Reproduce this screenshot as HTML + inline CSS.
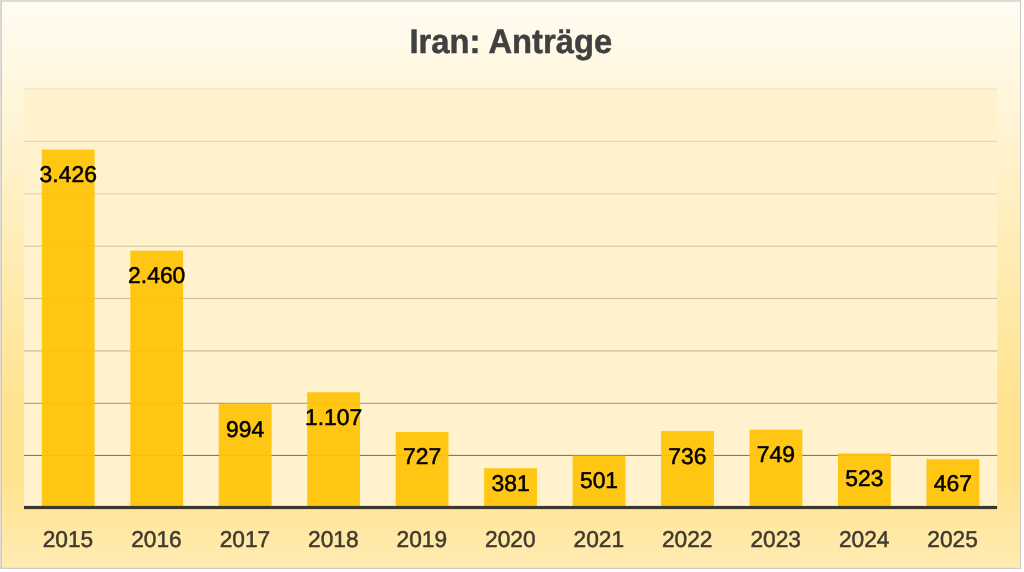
<!DOCTYPE html>
<html lang="de"><head><meta charset="utf-8"><title>Iran: Anträge</title>
<style>
html,body{margin:0;padding:0;background:#fff;}
body{width:1024px;height:572px;overflow:hidden;position:relative;}
svg{position:absolute;left:0;top:0;display:block;}
text{font-family:"Liberation Sans",sans-serif;text-rendering:geometricPrecision;}
.t{font-weight:bold;font-size:34px;fill:#404040;stroke:#404040;stroke-width:0.5px;text-anchor:middle;}
.ax{font-size:22.95px;fill:#403a30;stroke:#403a30;stroke-width:0.5px;text-anchor:middle;}
.dl{font-size:22.75px;fill:#000;stroke:#000;stroke-width:0.5px;text-anchor:middle;}
</style></head><body>
<svg width="1024" height="572" viewBox="0 0 1024 572">
<defs><linearGradient id="bg" x1="0" y1="0" x2="0" y2="1"><stop offset="0.00" stop-color="#FFFCF2"/><stop offset="0.74" stop-color="#FFE28C"/><stop offset="0.83" stop-color="#FFE28C"/><stop offset="1.00" stop-color="#FFECB3"/></linearGradient></defs>
<rect x="0" y="0" width="1021.0" height="568.8" fill="#e0dedb"/>
<rect x="0.9" y="0.8" width="1020.0" height="567.9" fill="#c9c5b8"/>
<rect x="1.8" y="1.6" width="1018.2" height="566.2" fill="url(#bg)"/>
<rect x="24.0" y="88.9" width="973.1" height="418.6" fill="#FFF2CC"/>
<rect x="24.0" y="88.35" width="973.1" height="1.1" fill="rgb(84,72,56)" fill-opacity="0.1"/>
<rect x="24.0" y="140.78" width="973.1" height="1.1" fill="rgb(84,72,56)" fill-opacity="0.14"/>
<rect x="24.0" y="193.20" width="973.1" height="1.1" fill="rgb(84,72,56)" fill-opacity="0.19"/>
<rect x="24.0" y="245.63" width="973.1" height="1.1" fill="rgb(84,72,56)" fill-opacity="0.25"/>
<rect x="24.0" y="297.95" width="973.1" height="1.1" fill="rgb(84,72,56)" fill-opacity="0.3"/>
<rect x="24.0" y="350.37" width="973.1" height="1.1" fill="rgb(84,72,56)" fill-opacity="0.35"/>
<rect x="24.0" y="402.75" width="973.1" height="1.1" fill="rgb(84,72,56)" fill-opacity="0.5"/>
<rect x="24.0" y="454.88" width="973.1" height="1.1" fill="rgb(84,72,56)" fill-opacity="0.72"/>
<rect x="41.83" y="149.57" width="52.8" height="357.93" fill="rgb(255,194,8)" fill-opacity="0.94"/>
<rect x="130.30" y="250.66" width="52.8" height="256.84" fill="rgb(255,194,8)" fill-opacity="0.94"/>
<rect x="218.76" y="404.08" width="52.8" height="103.42" fill="rgb(255,194,8)" fill-opacity="0.94"/>
<rect x="307.22" y="392.25" width="52.8" height="115.25" fill="rgb(255,194,8)" fill-opacity="0.94"/>
<rect x="395.69" y="432.02" width="52.8" height="75.48" fill="rgb(255,194,8)" fill-opacity="0.94"/>
<rect x="484.15" y="468.23" width="52.8" height="39.27" fill="rgb(255,194,8)" fill-opacity="0.94"/>
<rect x="572.61" y="455.67" width="52.8" height="51.83" fill="rgb(255,194,8)" fill-opacity="0.94"/>
<rect x="661.08" y="431.08" width="52.8" height="76.42" fill="rgb(255,194,8)" fill-opacity="0.94"/>
<rect x="749.54" y="429.72" width="52.8" height="77.78" fill="rgb(255,194,8)" fill-opacity="0.94"/>
<rect x="838.00" y="453.37" width="52.8" height="54.13" fill="rgb(255,194,8)" fill-opacity="0.94"/>
<rect x="926.47" y="459.23" width="52.8" height="48.27" fill="rgb(255,194,8)" fill-opacity="0.94"/>
<rect x="24.0" y="505.90" width="973.1" height="3.2" fill="#3d382e"/>
<text class="t" transform="translate(510.85 53) scale(0.964 1)">Iran: Anträge</text>
<text class="dl" transform="translate(68.23 182) scale(1.007 1)">3.426</text>
<text class="dl" transform="translate(156.70 283) scale(1.007 1)">2.460</text>
<text class="dl" transform="translate(245.16 437) scale(1.007 1)">994</text>
<text class="dl" transform="translate(333.62 425) scale(1.007 1)">1.107</text>
<text class="dl" transform="translate(422.09 464) scale(1.007 1)">727</text>
<text class="dl" transform="translate(510.55 491) scale(1.007 1)">381</text>
<text class="dl" transform="translate(599.01 488) scale(1.007 1)">501</text>
<text class="dl" transform="translate(687.48 464) scale(1.007 1)">736</text>
<text class="dl" transform="translate(775.94 462) scale(1.007 1)">749</text>
<text class="dl" transform="translate(864.40 486) scale(1.007 1)">523</text>
<text class="dl" transform="translate(952.87 491) scale(1.007 1)">467</text>
<text class="ax" transform="translate(67.98 547) scale(0.99 1)">2015</text>
<text class="ax" transform="translate(156.45 547) scale(0.99 1)">2016</text>
<text class="ax" transform="translate(244.91 547) scale(0.99 1)">2017</text>
<text class="ax" transform="translate(333.37 547) scale(0.99 1)">2018</text>
<text class="ax" transform="translate(421.84 547) scale(0.99 1)">2019</text>
<text class="ax" transform="translate(510.30 547) scale(0.99 1)">2020</text>
<text class="ax" transform="translate(598.76 547) scale(0.99 1)">2021</text>
<text class="ax" transform="translate(687.23 547) scale(0.99 1)">2022</text>
<text class="ax" transform="translate(775.69 547) scale(0.99 1)">2023</text>
<text class="ax" transform="translate(864.15 547) scale(0.99 1)">2024</text>
<text class="ax" transform="translate(952.62 547) scale(0.99 1)">2025</text>
</svg>
</body></html>
